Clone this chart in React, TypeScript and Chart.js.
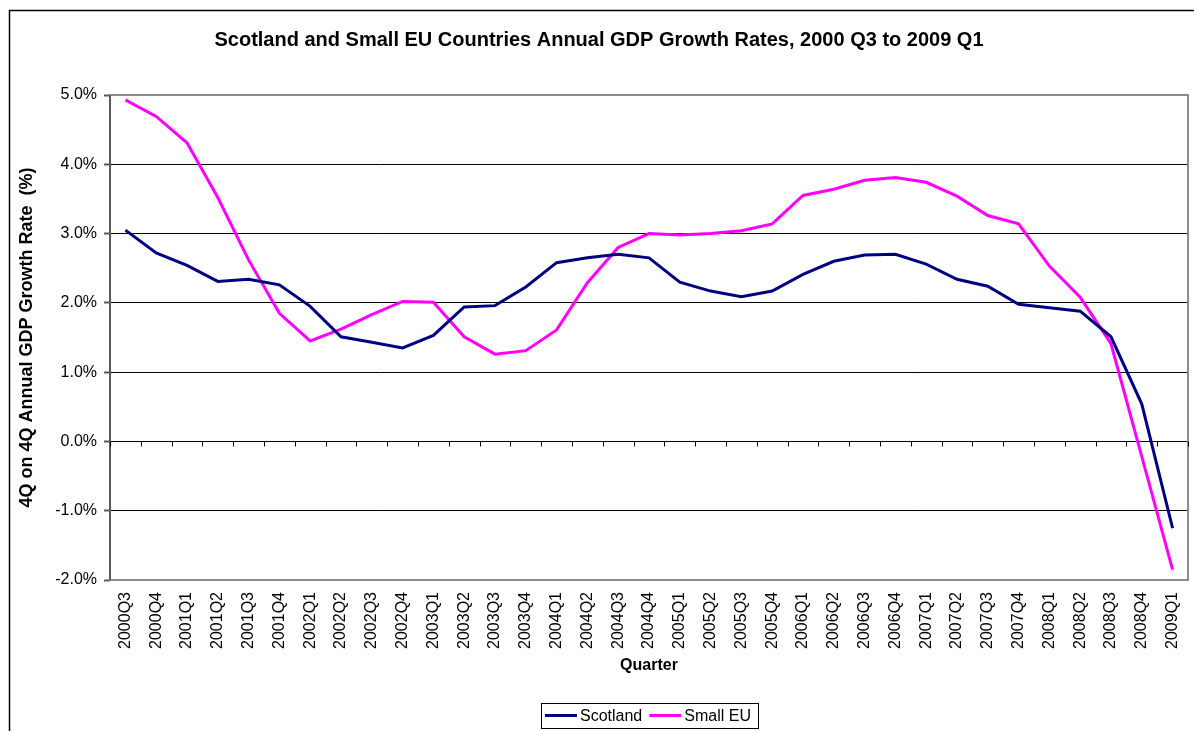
import React, { useEffect, useRef } from "react";
import { Chart, registerables } from "chart.js";

Chart.register(...registerables);

const TITLE = "Scotland and Small EU Countries Annual GDP Growth Rates, 2000 Q3 to 2009 Q1";
const Y_TITLE = "4Q on 4Q Annual GDP Growth Rate  (%)";
const X_TITLE = "Quarter";

const quarters = [
  "2000Q3", "2000Q4",
  "2001Q1", "2001Q2", "2001Q3", "2001Q4",
  "2002Q1", "2002Q2", "2002Q3", "2002Q4",
  "2003Q1", "2003Q2", "2003Q3", "2003Q4",
  "2004Q1", "2004Q2", "2004Q3", "2004Q4",
  "2005Q1", "2005Q2", "2005Q3", "2005Q4",
  "2006Q1", "2006Q2", "2006Q3", "2006Q4",
  "2007Q1", "2007Q2", "2007Q3", "2007Q4",
  "2008Q1", "2008Q2", "2008Q3", "2008Q4",
  "2009Q1",
];

const scotland = [
  3.05, 2.72,
  2.54, 2.31, 2.34, 2.26,
  1.95, 1.51, 1.43, 1.35,
  1.53, 1.94, 1.96, 2.23,
  2.58, 2.65, 2.70, 2.65,
  2.30, 2.17, 2.09, 2.17,
  2.41, 2.60, 2.69, 2.70,
  2.56, 2.34, 2.24, 1.98,
  1.93, 1.88, 1.51, 0.54,
  -1.25,
];

const smallEU = [
  4.93, 4.69,
  4.31, 3.52, 2.62, 1.85,
  1.45, 1.62, 1.83, 2.02,
  2.01, 1.51, 1.26, 1.31,
  1.61, 2.29, 2.80, 3.00,
  2.98, 3.00, 3.04, 3.14,
  3.55, 3.64, 3.77, 3.81,
  3.74, 3.54, 3.26, 3.14,
  2.53, 2.08, 1.41, -0.22,
  -1.85,
];

const Y_MIN = -2;
const Y_MAX = 5;
const Y_STEP = 1;

const FONT = "'Liberation Sans', Arial, sans-serif";

const decorPlugin = {
  id: "decor",
  beforeDraw(chart: any) {
    const { ctx, width, height } = chart;
    ctx.save();
    ctx.fillStyle = "#ffffff";
    ctx.fillRect(0, 0, width, height);
    ctx.strokeStyle = "#000000";
    ctx.lineWidth = 1.5;
    ctx.beginPath();
    ctx.moveTo(9.5, height);
    ctx.lineTo(9.5, 10.5);
    ctx.lineTo(width, 10.5);
    ctx.stroke();
    ctx.restore();
  },
  beforeDatasetsDraw(chart: any) {
    const { ctx, chartArea: a, scales } = chart;
    const xs = scales.x;
    const ys = scales.y;
    ctx.save();
    ctx.strokeStyle = "#8c8c8c";
    ctx.lineWidth = 2;
    ctx.strokeRect(a.left, a.top, a.right - a.left, a.bottom - a.top);
    ctx.strokeStyle = "#5a5a5a";
    ctx.lineWidth = 2;
    ctx.beginPath();
    ctx.moveTo(a.left, a.top);
    ctx.lineTo(a.left, a.bottom);
    ctx.stroke();
    const y0 = Math.round(ys.getPixelForValue(0)) + 0.5;
    ctx.strokeStyle = "#000000";
    ctx.lineWidth = 1;
    ctx.beginPath();
    for (let i = 0; i <= quarters.length; i++) {
      const x = Math.round(xs.getPixelForValue(i - 0.5)) + 0.5;
      ctx.moveTo(x, y0);
      ctx.lineTo(x, y0 + 5);
    }
    ctx.stroke();
    ctx.restore();
  },
  afterDraw(chart: any) {
    // legend centred under the plot area
    const { ctx, chartArea: a } = chart;
    const ds = chart.data.datasets;
    ctx.save();
    ctx.font = `16px ${FONT}`;
    ctx.textBaseline = "middle";
    ctx.textAlign = "left";
    const swatch = 32;
    const gapText = 3;
    const gapItem = 7;
    const padL = 4;
    const padR = 7;
    let total = padL + padR;
    const widths = ds.map((d: any) => ctx.measureText(d.label).width);
    ds.forEach((d: any, i: number) => {
      total += swatch + gapText + widths[i];
      if (i < ds.length - 1) total += gapItem;
    });
    const cx = (a.left + a.right) / 2;
    const left = Math.round(cx - total / 2);
    const top = 703;
    const h = 25;
    const cy = top + h / 2;
    ctx.strokeStyle = "#000000";
    ctx.lineWidth = 1;
    ctx.strokeRect(left + 0.5, top + 0.5, Math.round(total), h);
    let x = left + padL;
    ds.forEach((d: any, i: number) => {
      ctx.strokeStyle = d.borderColor;
      ctx.lineWidth = 3;
      ctx.beginPath();
      ctx.moveTo(x, cy);
      ctx.lineTo(x + swatch, cy);
      ctx.stroke();
      x += swatch + gapText;
      ctx.fillStyle = "#000000";
      ctx.fillText(d.label, x, cy + 1);
      x += widths[i] + gapItem;
    });
    ctx.restore();
  },
};

export default function App() {
  const ref = useRef<HTMLCanvasElement | null>(null);

  useEffect(() => {
    if (!ref.current) return;
    Chart.defaults.font.family = FONT;
    Chart.defaults.color = "#000000";
    const chart = new Chart(ref.current, {
      type: "line",
      data: {
        labels: quarters,
        datasets: [
          {
            label: "Scotland",
            data: scotland,
            borderColor: "#000080",
            backgroundColor: "#000080",
            borderWidth: 3,
            pointRadius: 0,
            tension: 0,
            fill: false,
          },
          {
            label: "Small EU",
            data: smallEU,
            borderColor: "#ff00ff",
            backgroundColor: "#ff00ff",
            borderWidth: 3,
            pointRadius: 0,
            tension: 0,
            fill: false,
          },
        ],
      },
      options: {
        responsive: false,
        animation: false,
        devicePixelRatio: 1,
        layout: { padding: { left: 10, right: 6, top: 0, bottom: 31 } },
        plugins: {
          title: {
            display: true,
            text: TITLE,
            color: "#000000",
            font: { family: FONT, size: 20, weight: "bold" },
            padding: { top: 28, bottom: 43 },
          },
          legend: { display: false },
          tooltip: { enabled: false },
        },
        scales: {
          x: {
            type: "category",
            offset: true,
            grid: { display: false, drawTicks: false },
            border: { display: false },
            ticks: {
              autoSkip: false,
              maxRotation: 90,
              minRotation: 90,
              padding: 12,
              color: "#000000",
              font: { family: FONT, size: 16 },
            },
            title: {
              display: true,
              text: X_TITLE,
              color: "#000000",
              font: { family: FONT, size: 16, weight: "bold" },
              padding: { top: 4, bottom: 25 },
            },
            afterFit(scale: any) {
              scale.height = 120;
              scale.paddingLeft = 0;
              scale.paddingRight = 0;
            },
          },
          y: {
            type: "linear",
            min: Y_MIN,
            max: Y_MAX,
            ticks: {
              stepSize: Y_STEP,
              padding: 7,
              color: "#000000",
              font: { family: FONT, size: 16 },
              callback: (v: any) => Number(v).toFixed(1) + "%",
            },
            grid: {
              color: "#000000",
              lineWidth: 1,
              drawTicks: true,
              tickLength: 6,
              tickColor: "#5a5a5a",
              tickWidth: 2,
            },
            border: { display: false },
            title: {
              display: true,
              text: Y_TITLE,
              color: "#000000",
              font: { family: FONT, size: 18, weight: "bold" },
              padding: { top: 6, bottom: 0 },
            },
            afterFit(scale: any) {
              scale.width = 100;
              scale.paddingTop = 0;
              scale.paddingBottom = 0;
            },
          },
        },
      },
      plugins: [decorPlugin],
    } as any);
    return () => chart.destroy();
  }, []);

  return (
    <div style={{ position: "fixed", left: 0, top: 0, width: 1194, height: 731, overflow: "hidden", background: "#fff" }}>
      <canvas ref={ref} width={1194} height={731} style={{ display: "block" }} />
    </div>
  );
}
